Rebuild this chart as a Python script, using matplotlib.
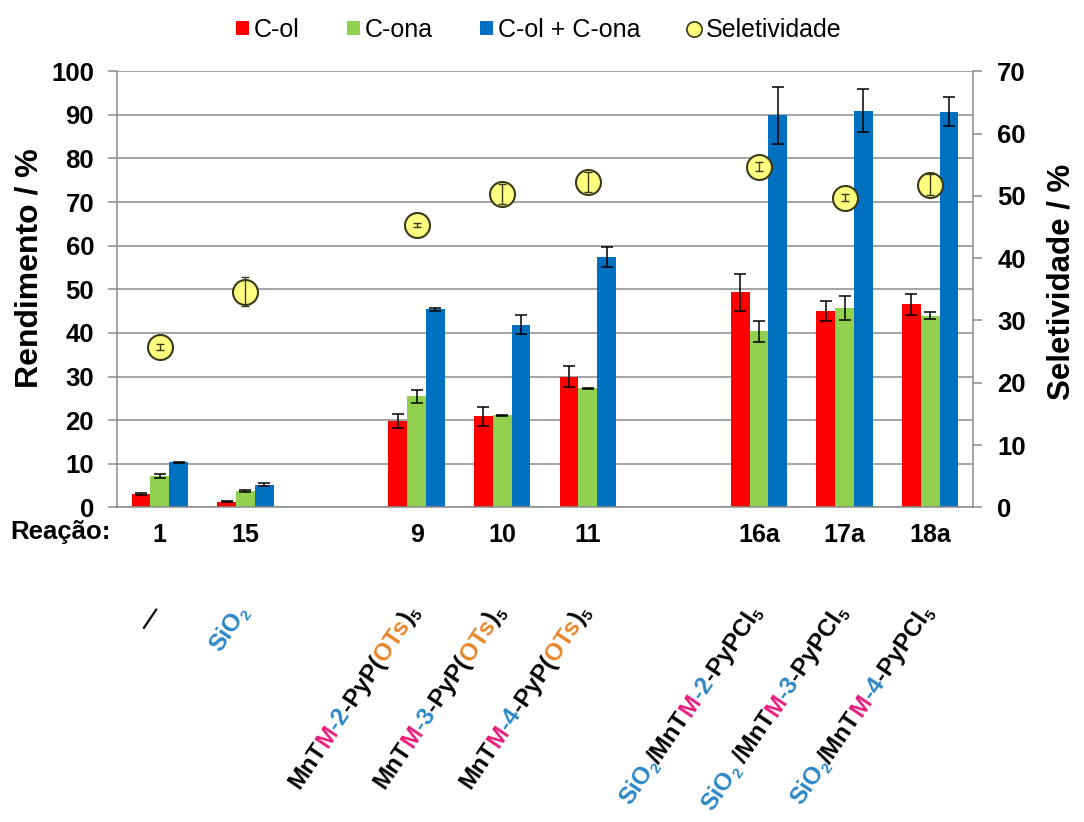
import numpy as np
import matplotlib
matplotlib.use('Agg')
import matplotlib.pyplot as plt
from matplotlib import transforms
from matplotlib.lines import Line2D
from matplotlib.patches import Patch

plt.rcParams['font.family'] = ['Liberation Sans', 'DejaVu Sans']

# ---------------- data ----------------
categories = ['1', '15', '', '9', '10', '11', '', '16a', '17a', '18a']
col_ol = [3.0, 1.3, 19.9, 20.9, 30.0, 49.3, 45.1, 46.6]
col_ol_err = [0.2, 0.15, 1.6, 2.2, 2.4, 4.3, 2.3, 2.4]
c_ona = [7.2, 3.8, 25.5, 21.1, 27.3, 40.4, 45.7, 43.9]
c_ona_err = [0.4, 0.2, 1.5, 0.1, 0.1, 2.4, 2.7, 0.8]
c_total = [10.3, 5.2, 45.4, 41.9, 57.3, 89.9, 91.0, 90.7]
c_total_err = [0.2, 0.3, 0.3, 2.1, 2.3, 6.5, 4.9, 3.3]
seletividade = [25.7, 34.6, 45.3, 50.3, 52.2, 54.7, 49.7, 51.8]
seletividade_err = [0.5, 2.3, 0.3, 1.6, 1.6, 0.75, 0.6, 1.7]

series_names = ['C-ol', 'C-ona', 'C-ol + C-ona', 'Seletividade']
left_ticks = list(range(0, 101, 10))
right_ticks = list(range(0, 71, 10))

K, PK, BL, OR = 'black', '#E6197A', '#2E88C6', '#E8862A'
catalyst_labels = [
    [('—', K, False)],
    [('SiO', BL, False), ('2', BL, True)],
    [('MnT', K, False), ('M', PK, False), ('-2', BL, False), ('-PyP(', K, False),
     ('OTs', OR, False), (')', K, False), ('5', K, True)],
    [('MnT', K, False), ('M', PK, False), ('-3', BL, False), ('-PyP(', K, False),
     ('OTs', OR, False), (')', K, False), ('5', K, True)],
    [('MnT', K, False), ('M', PK, False), ('-4', BL, False), ('-PyP(', K, False),
     ('OTs', OR, False), (')', K, False), ('5', K, True)],
    [('SiO', BL, False), ('2', BL, True), ('/MnT', K, False), ('M', PK, False),
     ('-2', BL, False), ('-PyPCl', K, False), ('5', K, True)],
    [('SiO', BL, False), ('2', BL, True), (' /MnT', K, False), ('M', PK, False),
     ('-3', BL, False), ('-PyPCl', K, False), ('5', K, True)],
    [('SiO', BL, False), ('2', BL, True), ('/MnT', K, False), ('M', PK, False),
     ('-4', BL, False), ('-PyPCl', K, False), ('5', K, True)],
]

# ---------------- figure ----------------
fig = plt.figure(figsize=(10.84, 8.22), dpi=100)
ax = fig.add_axes([0.1079, 0.3828, 0.7897, 0.5305])

pos_all = np.arange(len(categories))
xs = np.array([p for p, c in zip(pos_all, categories) if c != ''])
w = 0.22
RED, GREEN, BLUE = '#FF0000', '#92D050', '#0070C0'
GRID = '#8c8c8c'

ax.bar(xs - w, col_ol, w, color=RED, zorder=2)
ax.bar(xs, c_ona, w, color=GREEN, zorder=2)
ax.bar(xs + w, c_total, w, color=BLUE, zorder=2)
ekw = dict(fmt='none', ecolor='black', elinewidth=1.1, capsize=4, capthick=1.1, zorder=3)
ax.errorbar(xs - w, col_ol, yerr=col_ol_err, **ekw)
ax.errorbar(xs, c_ona, yerr=c_ona_err, **ekw)
ax.errorbar(xs + w, c_total, yerr=c_total_err, **ekw)

ax.set_xlim(-0.5, len(categories) - 0.5)
ax.set_ylim(0, 100)
ax.set_yticks(left_ticks)
ax.yaxis.grid(True, color=GRID, lw=1.1)
ax.set_axisbelow(True)
for s in ['top', 'right']:
    ax.spines[s].set_visible(False)
for s in ['left', 'bottom']:
    ax.spines[s].set_color(GRID)
    ax.spines[s].set_linewidth(1.1)
ax.tick_params(axis='y', direction='out', length=6.5, width=1.1, color=GRID,
               labelsize=18.5, pad=10)
for lb in ax.get_yticklabels():
    lb.set_fontweight('bold')
ax.set_xticks(pos_all)
ax.set_xticklabels(categories, fontsize=18, fontweight='bold')
ax.tick_params(axis='x', length=0, pad=11)

ax2 = ax.twinx()
ax2.set_ylim(0, 70)
ax2.set_yticks(right_ticks)
for s in ['top', 'left', 'bottom']:
    ax2.spines[s].set_visible(False)
ax2.spines['right'].set_color(GRID)
ax2.spines['right'].set_linewidth(1.1)
ax2.tick_params(axis='y', direction='out', length=6.5, width=1.1, color=GRID,
                labelsize=18.5, pad=11)
for lb in ax2.get_yticklabels():
    lb.set_fontweight('bold')
ax2.plot(xs, seletividade, 'o', ms=18, mfc='#FFFF80', mec='#3a3a1a', mew=1.5, zorder=3)
ax2.errorbar(xs, seletividade, yerr=seletividade_err, fmt='none', ecolor='#3a3a1a',
             elinewidth=1.0, capsize=3, capthick=1.0, zorder=4)

# axis titles
fig.text(30 / 1084, 1 - 268 / 822, 'Rendimento / %', rotation=90, ha='center', va='center',
         fontsize=23, fontweight='bold')
fig.text(1062 / 1084, 1 - 282 / 822, 'Seletividade / %', rotation=90, ha='center', va='center',
         fontsize=22.5, fontweight='bold')
fig.text(10 / 1084, 1 - 532 / 822, 'Reação:', ha='left', va='center', fontsize=18.5,
         fontweight='bold')

# legend
handles = [Patch(facecolor=RED), Patch(facecolor=GREEN), Patch(facecolor=BLUE),
           Line2D([], [], marker='o', ls='none', ms=11, mfc='#FFFF80', mec='#3a3a1a', mew=1.2)]
fig.legend(handles, series_names, loc='center', bbox_to_anchor=(0.497, 1 - 30 / 822), ncol=4,
           frameon=False, fontsize=18, handlelength=0.5, handleheight=0.5,
           handletextpad=0.2, columnspacing=1.9)

# rotated multi-colour catalyst labels
renderer = fig.canvas.get_renderer()
LBL_FS = 17.5
ROT = 56
ang = np.deg2rad(ROT)
ca, sa = np.cos(ang), np.sin(ang)
px_per_pt = fig.dpi / 72.0
ANCHOR_DROP = 104
ANCHOR_DX = 3


def text_width(s, size):
    t1 = fig.text(0, 0, '|' + s + '|', fontsize=size, fontweight='bold')
    t2 = fig.text(0, 0, '||', fontsize=size, fontweight='bold')
    wd = t1.get_window_extent(renderer).width - t2.get_window_extent(renderer).width
    t1.remove()
    t2.remove()
    return wd


for x, segs in zip(xs, catalyst_labels):
    sizes = [LBL_FS * 0.62 if sub else LBL_FS for _, _, sub in segs]
    widths = [text_width(t, sz) for (t, _, _), sz in zip(segs, sizes)]
    d = -sum(widths)
    for (t, color, sub), wd, sz in zip(segs, widths, sizes):
        ox = d * ca + ANCHOR_DX
        oy = d * sa - ANCHOR_DROP
        if sub:
            sh = 0.18 * LBL_FS * px_per_pt
            ox += sh * sa
            oy -= sh * ca
        tr = transforms.offset_copy(ax.get_xaxis_transform(), fig=fig, x=ox, y=oy, units='dots')
        ax.text(x, 0, t, transform=tr, rotation=ROT, rotation_mode='anchor', ha='left',
                va='baseline', fontsize=sz, fontweight='bold', color=color, clip_on=False)
        d += wd

fig.savefig('out.png', dpi=100)
